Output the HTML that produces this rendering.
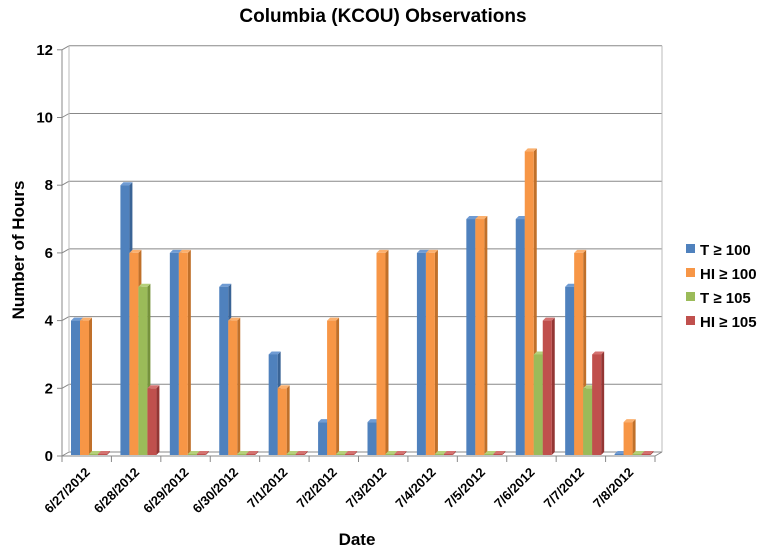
<!DOCTYPE html>
<html><head><meta charset="utf-8"><style>
html,body{margin:0;padding:0;background:#fff;}
svg{display:block;font-family:"Liberation Sans",Arial,sans-serif;}
</style></head><body>
<svg width="767" height="547" viewBox="0 0 767 547" xmlns="http://www.w3.org/2000/svg">
<rect width="767" height="547" fill="#fff"/>
<text x="383" y="22" text-anchor="middle" font-size="19" font-weight="bold" fill="#000">Columbia (KCOU) Observations</text>
<g id="grid"></g>
<g id="bars"></g>
<g id="labels"></g>
<text transform="translate(24,250) rotate(-90)" text-anchor="middle" font-size="17" font-weight="bold">Number of Hours</text>
<text x="357" y="545" text-anchor="middle" font-size="17" font-weight="bold">Date</text>
<g font-size="15" font-weight="bold">
<rect x="686" y="244" width="9" height="9" fill="#4f81bd"/><text x="700" y="255">T ≥ 100</text>
<rect x="686" y="268" width="9" height="9" fill="#f79646"/><text x="700" y="279">HI ≥ 100</text>
<rect x="686" y="292" width="9" height="9" fill="#9bbb59"/><text x="700" y="303">T ≥ 105</text>
<rect x="686" y="316" width="9" height="9" fill="#c0504d"/><text x="700" y="327">HI ≥ 105</text>
</g>
<script>
var ns="http://www.w3.org/2000/svg";
function el(p,t,a,txt){var e=document.createElementNS(ns,t);for(var k in a)e.setAttribute(k,a[k]);if(txt!=null)e.textContent=txt;p.appendChild(e);return e;}
var g=document.getElementById('grid'),b=document.getElementById('bars'),l=document.getElementById('labels');
var x0=62,x1=655,dx=7,dy=-4,gw=(x1-x0)/12;
function Y(v){return 456-33.85*v;}
for(var v=0;v<=12;v+=2){var y=Y(v);
 el(g,'line',{x1:x0,y1:y,x2:x0+dx,y2:y+dy,stroke:'#888','stroke-width':1});
 el(g,'line',{x1:x0+dx,y1:y+dy,x2:x1+dx,y2:y+dy,stroke:'#888','stroke-width':1});
 el(g,'line',{x1:x0-5,y1:y,x2:x0,y2:y,stroke:'#888'});
 el(g,'text',{x:x0-9,y:y+5,'text-anchor':'end','font-size':15,'font-weight':'bold'},String(v));
}
el(g,'line',{x1:x0,y1:Y(0),x2:x0,y2:Y(12),stroke:'#888'});
el(g,'line',{x1:x0+dx,y1:Y(0)+dy,x2:x0+dx,y2:Y(12)+dy,stroke:'#bbb'});
el(g,'line',{x1:x1+dx,y1:Y(0)+dy,x2:x1+dx,y2:Y(12)+dy,stroke:'#bbb'});
el(g,'line',{x1:x0,y1:Y(0),x2:x1,y2:Y(0),stroke:'#888'});
el(g,'line',{x1:x1,y1:Y(0),x2:x1+dx,y2:Y(0)+dy,stroke:'#888'});
for(var i=0;i<=12;i++){var x=x0+i*gw;el(g,'line',{x1:x,y1:456,x2:x,y2:462,stroke:'#888'});}
var dates=["6/27/2012","6/28/2012","6/29/2012","6/30/2012","7/1/2012","7/2/2012","7/3/2012","7/4/2012","7/5/2012","7/6/2012","7/7/2012","7/8/2012"];
var data=[[4,8,6,5,3,1,1,6,7,7,5,0],[4,6,6,4,2,4,6,6,7,9,6,1],[0,5,0,0,0,0,0,0,0,3,2,0],[0,2,0,0,0,0,0,0,0,4,3,0]];
var cols=[["#4f81bd","#3a6496","#6f9bd3"],["#f79646","#c0702a","#fbb06e"],["#9bbb59","#76923c","#b5d07a"],["#c0504d","#943634","#d47270"]];
var bw=9,d=3;
for(var i=0;i<12;i++){
 for(var s=0;s<4;s++){
  var v=data[s][i],x=x0+9+i*gw+s*bw,yt=Y(v),yb=455,c=cols[s];
  if(yb-yt<1)yt=yb-1;
  el(b,'polygon',{points:[x+bw,yb,x+bw+d,yb-d,x+bw+d,yt-d,x+bw,yt].join(' '),fill:c[1]});
  el(b,'polygon',{points:[x,yt,x+d,yt-d,x+bw+d,yt-d,x+bw,yt].join(' '),fill:c[2]});
  el(b,'rect',{x:x,y:yt,width:bw,height:yb-yt,fill:c[0]});
 }
 var cx=x0+(i+0.5)*gw+4;
 el(l,'text',{x:cx,y:473,'text-anchor':'end','font-size':13,'font-weight':'bold',transform:'rotate(-45 '+cx+' 473)'},dates[i]);
}
</script>
</svg>
</body></html>
